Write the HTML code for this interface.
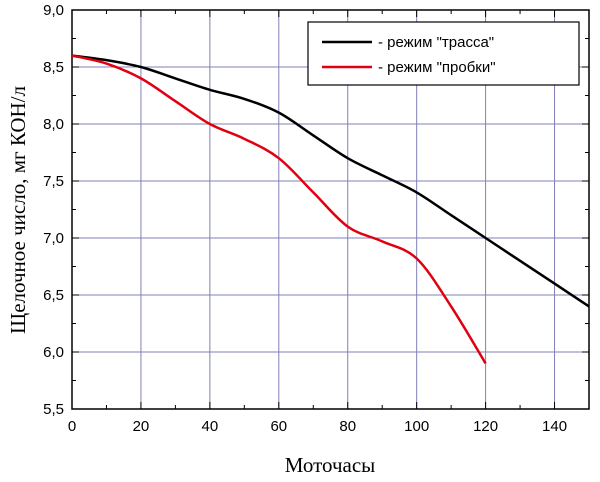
<!DOCTYPE html>
<html><head><meta charset="utf-8"><style>
body{margin:0;background:#fff;width:600px;height:477px;overflow:hidden}
text{font-family:"Liberation Sans",Arial,sans-serif;font-size:15px;fill:#000}
.ser{font-family:"Liberation Serif","Times New Roman",serif;font-size:21px}
</style></head><body>
<svg id="c" width="600" height="477"></svg>
<script>
const xTicks=[0,20,40,60,80,100,120,140];
const yTicks=[5.5,6.0,6.5,7.0,7.5,8.0,8.5,9.0];
const hoursTrack=[0,10,20,30,40,50,60,70,80,90,100,110,120,130,140,150];
const valsTrack=[8.6,8.56,8.5,8.4,8.3,8.22,8.1,7.9,7.7,7.55,7.4,7.2,7.0,6.8,6.6,6.4];
const hoursJam=[0,10,20,30,40,50,60,70,80,90,100,110,120];
const valsJam=[8.6,8.53,8.4,8.2,8.0,7.87,7.7,7.4,7.1,6.97,6.82,6.4,5.9];
const L=72,R=589,T=10,B=409;
const X=v=>L+(v-0)/150*(R-L);
const Y=v=>B-(v-5.5)/3.5*(B-T);
const svg=document.getElementById('c');
const NS='http://www.w3.org/2000/svg';
function mk(t,a,p){const e=document.createElementNS(NS,t);for(const k in a)e.setAttribute(k,a[k]);(p||svg).appendChild(e);return e;}
xTicks.forEach(v=>{
 const l=mk('line',{x1:X(v),x2:X(v),y1:T,y2:B,stroke:'#8080b8','stroke-width':1});
 
 
 const t=mk('text',{x:X(v),y:B+22,'text-anchor':'middle'});t.textContent=v;
 
 
 mk('line',{x1:X(v),x2:X(v),y1:T,y2:T+7,stroke:'#000'});
 mk('line',{x1:X(v),x2:X(v),y1:B,y2:B-7,stroke:'#000'});
 if(v+10<=150){mk('line',{x1:X(v+10),x2:X(v+10),y1:B,y2:B-4,stroke:'#000'});mk('line',{x1:X(v+10),x2:X(v+10),y1:T,y2:T+4,stroke:'#000'});}
});
yTicks.forEach(v=>{
 const l=mk('line',{x1:L,x2:R,y1:Y(v),y2:Y(v),stroke:'#8080b8','stroke-width':1});
 
 
 const t=mk('text',{x:L-8,y:Y(v)+5,'text-anchor':'end'});t.textContent=v.toFixed(1).replace('.',',');
 
 
 mk('line',{x1:L,x2:L+7,y1:Y(v),y2:Y(v),stroke:'#000'});
 mk('line',{x1:R,x2:R-7,y1:Y(v),y2:Y(v),stroke:'#000'});
 if(v<9){mk('line',{x1:L,x2:L+4,y1:Y(v+0.25),y2:Y(v+0.25),stroke:'#000'});mk('line',{x1:R,x2:R-4,y1:Y(v+0.25),y2:Y(v+0.25),stroke:'#000'});}
});
const fr=mk('rect',{x:L,y:T,width:R-L,height:B-T,fill:'none',stroke:'#000','stroke-width':1.5});


function path(xs,ys){
 const p=xs.map((x,i)=>[X(x),Y(ys[i])]);
 let d='M'+p[0][0]+','+p[0][1];
 for(let i=0;i<p.length-1;i++){
  const p0=p[i-1]||p[i],p1=p[i],p2=p[i+1],p3=p[i+2]||p2;
  d+=' C'+(p1[0]+(p2[0]-p0[0])/6)+','+(p1[1]+(p2[1]-p0[1])/6)+' '+(p2[0]-(p3[0]-p1[0])/6)+','+(p2[1]-(p3[1]-p1[1])/6)+' '+p2[0]+','+p2[1];
 }
 return d;
}
const s1=mk('path',{d:path(hoursTrack,valsTrack),fill:'none',stroke:'#000','stroke-width':2.5});


const s2=mk('path',{d:path(hoursJam,valsJam),fill:'none',stroke:'#e00010','stroke-width':2.5});


</script>
<svg width="600" height="477" style="position:absolute;left:0;top:0">
<g>
<rect x="308" y="22" width="271" height="63" fill="#fff" stroke="#000" stroke-width="1.2"/>
<line x1="322" y1="42" x2="372" y2="42" stroke="#000" stroke-width="2.5"/>
<text x="378" y="47">-  режим "трасса"</text>
<line x1="322" y1="67" x2="372" y2="67" stroke="#e00010" stroke-width="2.5"/>
<text x="378" y="72">-  режим "пробки"</text>
</g>
<text class="ser" x="330" y="472" text-anchor="middle">Моточасы</text>
<text class="ser" transform="translate(25,210) rotate(-90)" text-anchor="middle">Щелочное число, мг КОН/л</text>
</svg>
</body></html>
